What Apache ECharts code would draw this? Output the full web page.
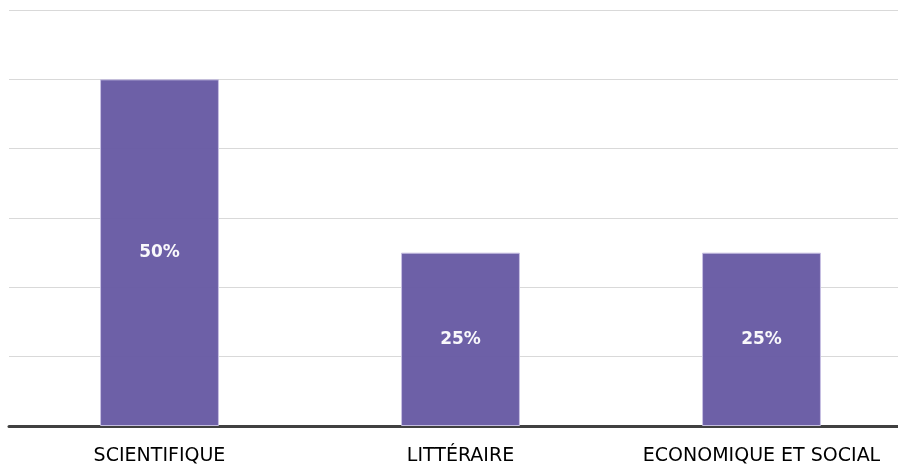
<!DOCTYPE html>
<html><head><meta charset="utf-8">
<script src="https://cdn.jsdelivr.net/npm/echarts@6/dist/echarts.min.js"></script>
<style>html,body{margin:0;padding:0;background:#fff}#c{width:898px;height:469px}</style>
</head><body><div id="c"></div>
<script>
const categories = ['SCIENTIFIQUE', 'LITTÉRAIRE', 'ECONOMIQUE ET SOCIAL'];
const values = [50, 25, 25];
const chart = echarts.init(document.getElementById('c'));
chart.setOption({
  animation: false,
  grid: { left: 9, width: 903, top: 10, height: 416, containLabel: false, outerBoundsMode: 'none' },
  xAxis: {
    type: 'category', data: categories,
    axisLine: { lineStyle: { color: '#404040', width: 3 } },
    axisTick: { show: false },
    axisLabel: { color: '#000', fontSize: 19, fontFamily: 'DejaVu Sans, sans-serif', margin: 21, interval: 0, hideOverlap: false }
  },
  yAxis: {
    type: 'value', min: 0, max: 60, interval: 10,
    axisLabel: { show: false }, axisLine: { show: false }, axisTick: { show: false },
    splitLine: { lineStyle: { color: '#d9d9d9', width: 1 } }
  },
  series: [{
    type: 'bar', data: values, barWidth: '39.5%',
    itemStyle: { color: '#675aa3', opacity: 0.96, borderColor: '#c8c1e3', borderWidth: 1 },
    label: { show: true, position: 'inside', formatter: '{c}%', color: '#fff', fontWeight: 'bold', fontSize: 17, fontFamily: 'DejaVu Sans, sans-serif' }
  }]
});
</script></body></html>
